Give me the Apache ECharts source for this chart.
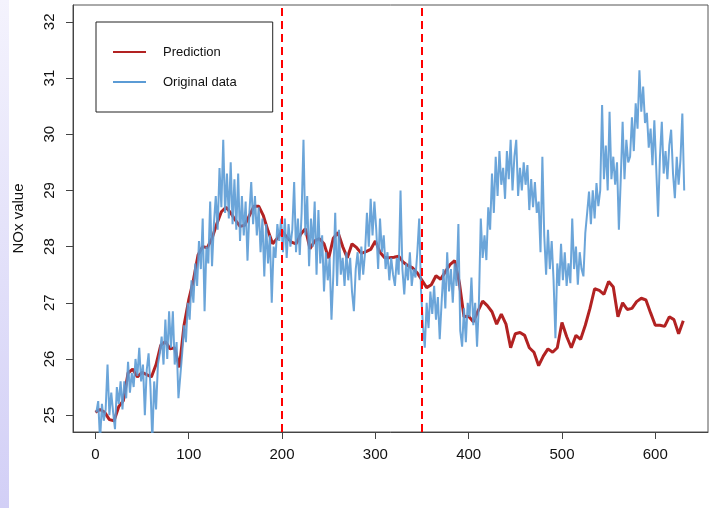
<!DOCTYPE html>
<html>
<head>
<meta charset="utf-8">
<script src="https://cdn.jsdelivr.net/npm/echarts@6/dist/echarts.min.js"></script>
<style>
html,body{margin:0;padding:0;background:#fff;}
#chart{width:728px;height:508px;}
</style>
</head>
<body>
<div id="chart"></div>
<script>
// ---- data ----
const xTicks = [0, 100, 200, 300, 400, 500, 600];
const yTicks = [25, 26, 27, 28, 29, 30, 31, 32];
const cutPoints = [200, 350];
const seriesNames = ['Prediction', 'Original data'];

// Prediction: x = 0, 5, 10, ... 630
const predStart = 0, predStep = 5;
const predValues = [
  25.05,25.10,25.05,24.92,24.90,25.15,25.26,25.75,25.82,25.68,
  25.76,25.72,25.68,25.90,26.24,26.31,26.18,26.20,25.85,26.60,
  27.05,27.40,27.85,28.00,27.98,28.15,28.40,28.62,28.70,28.60,
  28.47,28.36,28.38,28.55,28.72,28.72,28.55,28.28,28.05,28.15,
  28.28,28.17,28.08,28.05,28.22,28.32,27.96,28.10,28.14,28.05,
  27.79,28.15,28.25,28.00,27.80,28.05,27.98,27.88,27.91,27.95,
  28.10,27.90,27.80,27.80,27.81,27.83,27.72,27.66,27.62,27.53,
  27.40,27.27,27.32,27.48,27.42,27.55,27.68,27.75,27.36,26.75,
  26.76,26.66,26.85,27.03,26.95,26.84,26.62,26.80,26.62,26.20,
  26.45,26.47,26.42,26.20,26.12,25.88,26.05,26.18,26.12,26.20,
  26.65,26.40,26.20,26.42,26.35,26.60,26.90,27.25,27.22,27.15,
  27.38,27.28,26.75,27.00,26.88,26.90,27.02,27.08,27.05,26.82,
  26.60,26.60,26.58,26.75,26.70,26.45,26.68
];

// Original data: x = 1, 3, 5, ... 631
const origStart = 1, origStep = 2;
const origValues = [
  25.05,25.25,24.55,25.20,24.90, 25.10,25.90,25.00,25.40,25.05,
  24.75,25.50,25.20,25.60,25.10, 25.60,25.30,25.95,25.40,25.75,
  25.50,26.00,25.70,26.20,25.60, 25.90,25.00,25.80,26.10,25.50,
  24.55,25.60,25.10,25.90,26.10, 26.40,25.90,26.70,26.00,26.85,
  26.20,26.85,25.90,26.30,25.30, 25.70,26.10,26.60,26.30,27.00,
  26.70,27.40,27.00,27.70,27.30, 28.10,27.60,28.50,26.85,28.00,
  27.70,28.80,27.65,28.40,28.90, 28.30,29.40,28.70,29.90,28.60,
  29.30,28.50,29.50,28.40,29.20, 28.30,29.30,28.10,28.90,28.20,
  28.80,27.75,28.60,29.15,28.40, 28.90,28.20,28.70,27.90,28.50,
  27.47,28.40,27.70,28.20,27.00, 28.00,27.80,28.40,28.10,28.50,
  27.90,28.50,27.80,28.40,28.00, 28.30,29.15,27.90,28.50,27.85,
  28.60,29.90,28.20,28.90,27.65, 28.50,28.00,28.80,27.50,28.65,
  27.70,28.20,27.20,27.90,27.40, 27.80,26.70,27.50,28.60,27.30,
  28.30,27.50,27.80,27.30,27.90, 27.40,27.80,27.20,26.85,27.60,
  27.90,27.40,28.00,27.50,27.90, 28.60,28.00,28.85,28.20,28.80,
  28.30,27.60,28.50,27.90,28.20, 27.60,27.90,27.40,27.80,27.50,
  27.30,27.80,27.50,29.00,27.60, 27.15,27.70,27.40,27.90,27.30,
  27.60,27.45,27.90,28.50,27.20, 26.60,26.20,27.00,26.55,27.20,
  26.80,27.30,26.70,27.10,26.35, 27.00,27.60,26.90,27.90,27.20,
  27.60,27.00,27.70,27.30,28.40, 26.50,26.22,26.90,26.30,27.00,
  26.75,27.45,26.60,27.00,26.22, 27.00,28.50,27.80,28.20,27.76,
  28.70,28.30,29.30,28.60,29.60, 28.90,29.70,29.10,29.40,28.85,
  29.70,29.20,29.90,29.00,29.60, 29.90,28.90,29.40,29.00,29.50,
  29.10,29.45,28.65,29.20,28.70, 29.15,28.60,28.80,27.90,29.60,
  28.20,27.50,28.30,27.60,28.10, 27.40,26.37,27.70,27.30,28.05,
  27.40,27.90,27.30,27.70,27.35, 28.50,27.60,28.00,27.32,27.90,
  27.60,27.47,28.24,28.60,28.98, 28.40,29.00,28.50,29.13,28.72,
  29.00,30.52,29.20,29.80,29.00, 30.40,29.20,29.60,29.10,29.50,
  28.30,29.20,30.22,29.20,29.90, 29.50,29.60,30.30,29.70,30.55,
  30.10,31.14,30.40,30.85,30.20, 30.38,29.76,30.10,29.45,30.25,
  29.40,28.53,29.60,30.22,29.30, 29.70,29.20,29.80,30.08,29.30,
  28.86,29.60,29.10,29.55,30.37, 29.00
];

// ---- chart ----
const predData = predValues.map((v, i) => [predStart + i * predStep, v]);
const origData = origValues.map((v, i) => [origStart + i * origStep, v]);

const chart = echarts.init(document.getElementById('chart'), null, {renderer: 'canvas'});
const FONT = 'Liberation Sans, Arial, sans-serif';

chart.setOption({
  animation: false,
  backgroundColor: '#ffffff',
  graphic: [{
    type: 'rect',
    left: 0, top: 0, z: -10,
    shape: {x: 0, y: 0, width: 9, height: 508},
    style: {
      fill: new echarts.graphic.LinearGradient(0, 0, 0, 1, [
        {offset: 0, color: '#f4f3fd'},
        {offset: 1, color: '#d2cff6'}
      ])
    }
  }],
  grid: {
    left: 73, top: 5, right: 20, bottom: 76,
    outerBoundsMode: 'none', containLabel: false,
    show: true, borderColor: '#555', borderWidth: 1, backgroundColor: 'transparent'
  },
  legend: {
    orient: 'vertical',
    left: 96, top: 22,
    data: seriesNames,
    icon: 'rect',
    itemWidth: 33, itemHeight: 2,
    itemGap: 16,
    padding: [23, 36, 23, 17],
    borderColor: '#222', borderWidth: 1,
    textStyle: {fontFamily: FONT, fontSize: 13, color: '#111', lineHeight: 14, padding: [0, 0, 0, 12]}
  },
  xAxis: {
    type: 'value', min: -24, max: 656.5,
    splitLine: {show: false},
    axisLine: {show: true, onZero: false, lineStyle: {color: '#444', width: 1}},
    axisTick: {show: true, length: 7, customValues: xTicks, lineStyle: {color: '#444'}},
    axisLabel: {customValues: xTicks, margin: 15, fontFamily: FONT, fontSize: 15, color: '#111'}
  },
  yAxis: {
    type: 'value', min: 24.70, max: 32.30,
    name: 'NOx value', nameLocation: 'middle', nameGap: 47,
    nameTextStyle: {fontFamily: FONT, fontSize: 15, color: '#111'},
    splitLine: {show: false},
    axisLine: {show: true, onZero: false, lineStyle: {color: '#444', width: 1}},
    axisTick: {show: true, length: 7, customValues: yTicks, lineStyle: {color: '#444'}},
    axisLabel: {customValues: yTicks, rotate: 90, margin: 16, fontFamily: FONT, fontSize: 15, color: '#111'}
  },
  series: [
    {
      name: seriesNames[0], type: 'line', data: predData,
      showSymbol: false, symbol: 'none',
      itemStyle: {color: '#b22222'},
      lineStyle: {color: '#b22222', width: 3}
    },
    {
      name: seriesNames[1], type: 'line', data: origData,
      showSymbol: false, symbol: 'none',
      itemStyle: {color: '#5b9bd5'},
      lineStyle: {color: '#5b9bd5', width: 2, opacity: 0.9}
    },
    {
      name: 'cuts', type: 'line', data: [],
      markLine: {
        silent: true, symbol: 'none', animation: false,
        label: {show: false},
        lineStyle: {color: '#ff0000', type: [8, 5], width: 2},
        data: cutPoints.map(c => ({xAxis: c}))
      }
    }
  ]
});
</script>
</body>
</html>
